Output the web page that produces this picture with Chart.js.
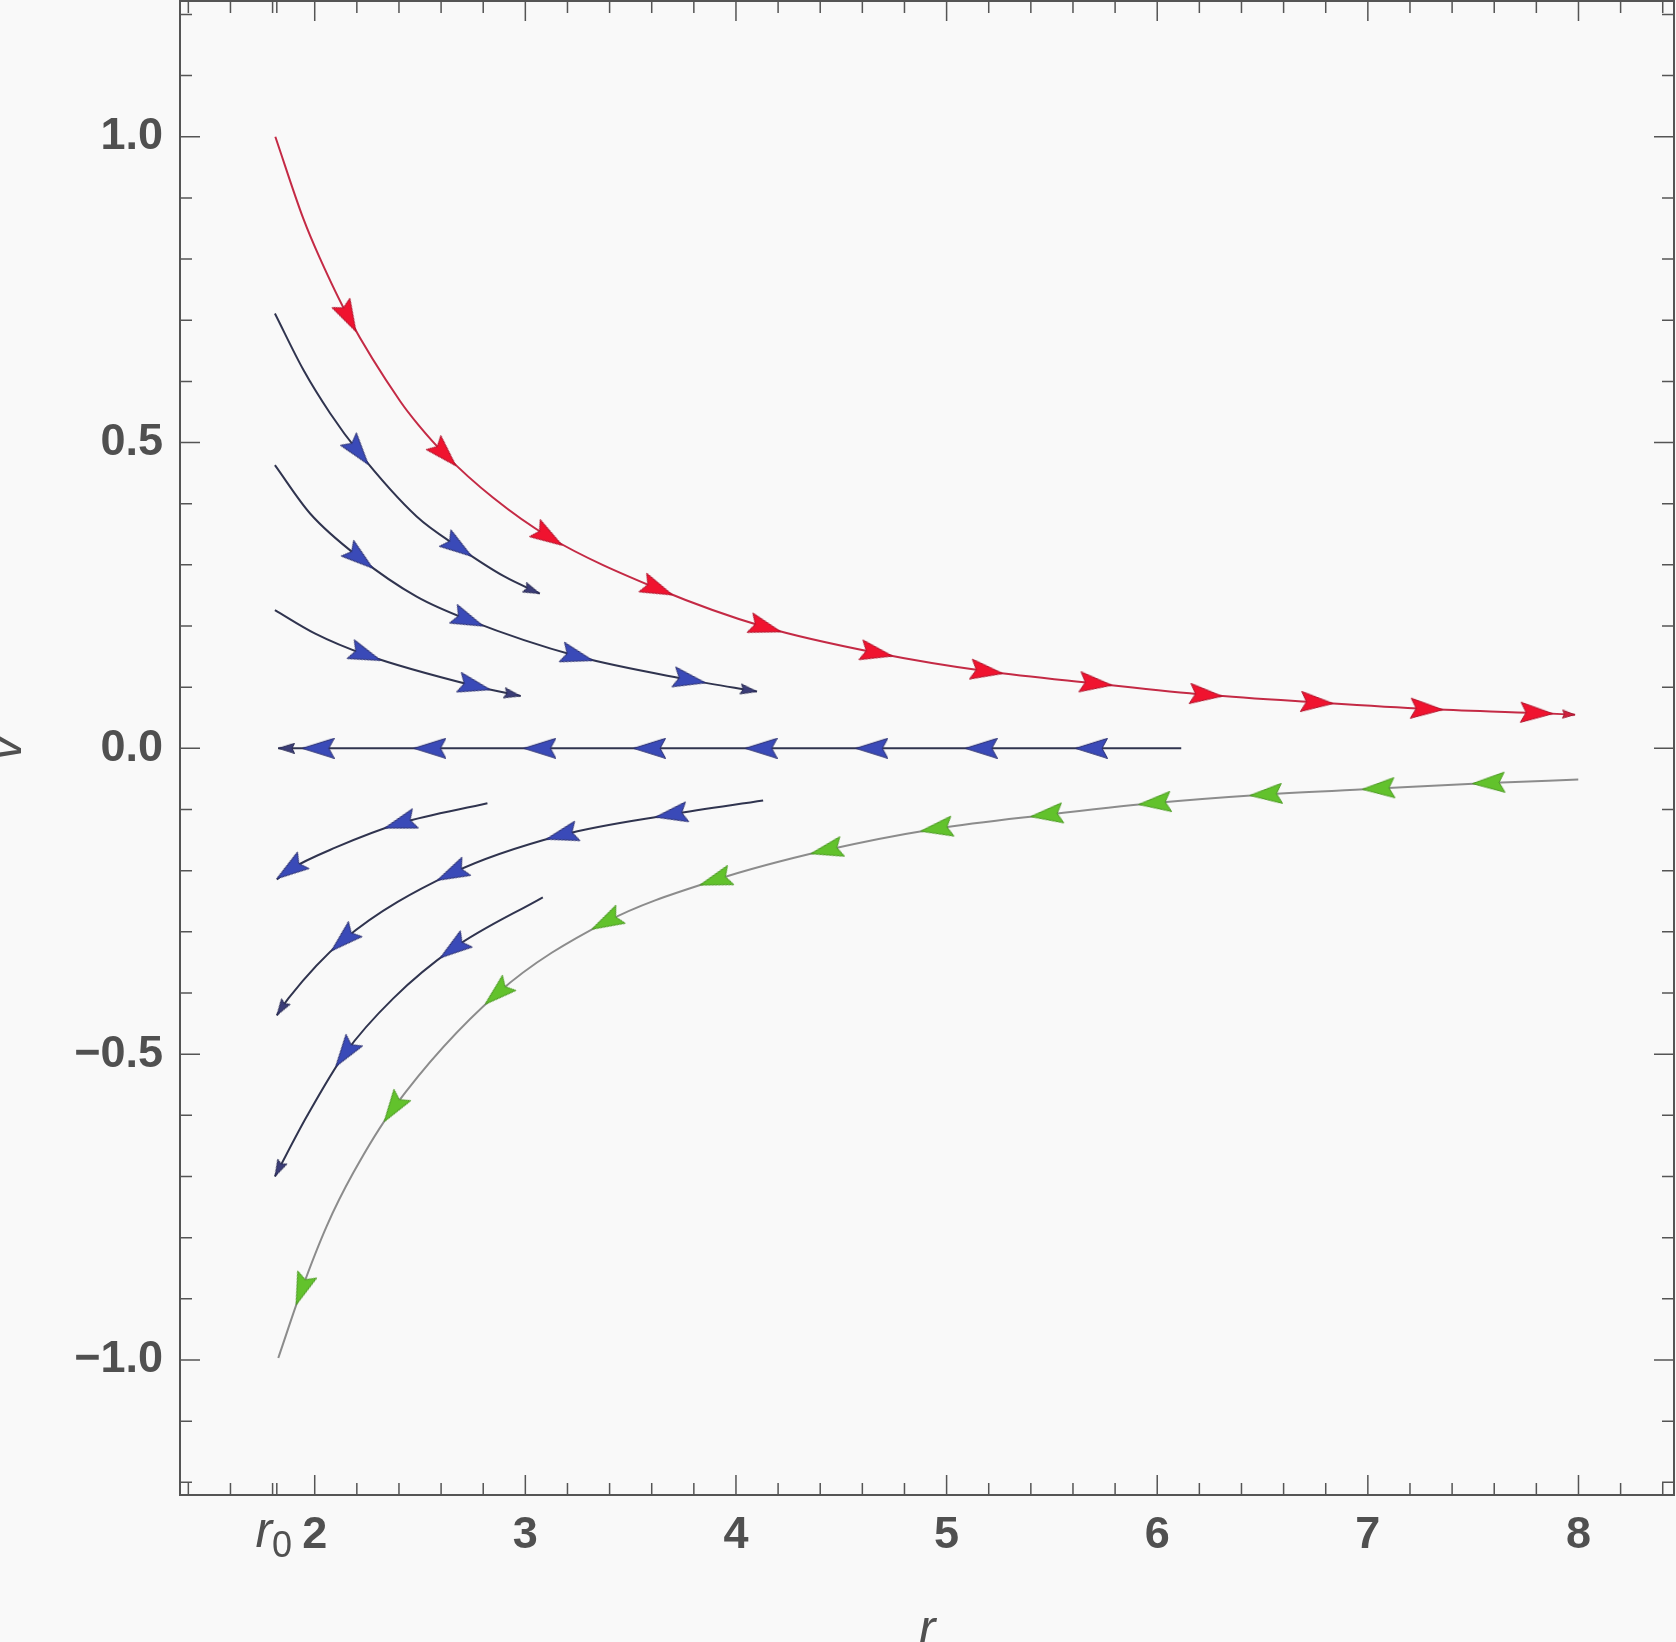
<!DOCTYPE html>
<html>
<head>
<meta charset="utf-8">
<script src="https://cdn.jsdelivr.net/npm/chart.js@4.4.0/dist/chart.umd.min.js"></script>
<style>
  html, body { margin: 0; padding: 0; background: #f9f9f9; }
  #wrap { width: 1676px; height: 1642px; }
</style>
</head>
<body>
<div id="wrap"><canvas id="flow" width="1676" height="1642"></canvas></div>
<script>
const r0 = 1.82;
const xTicks = [2, 3, 4, 5, 6, 7, 8];
const yTicks = [-1, -0.5, 0, 0.5, 1];
const yTickLabels = ['\u22121.0', '\u22120.5', '0.0', '0.5', '1.0'];

// outgoing trajectory from (r0, 1)
const redR = [1.813, 1.946, 2.025, 2.16, 2.405, 2.492, 2.617, 2.846, 3.11, 3.628, 4.14, 4.668, 5.191, 5.709, 6.232, 6.759, 7.28, 7.802, 7.984];
const redV = [1.0, 0.866, 0.801, 0.705, 0.568, 0.529, 0.481, 0.41, 0.346, 0.261, 0.198, 0.156, 0.126, 0.106, 0.0875, 0.075, 0.0644, 0.0578, 0.055];
const redArrows = [2.16, 2.617, 3.11, 3.628, 4.14, 4.668, 5.191, 5.709, 6.232, 6.759, 7.28, 7.802];

// upper blue streamlines
const blue1R = [1.811, 1.946, 2.073, 2.207, 2.484, 2.682, 2.9, 3.069];
const blue1V = [0.711, 0.619, 0.548, 0.485, 0.379, 0.329, 0.281, 0.253];
const blue1Arrows = [2.207, 2.682];

const blue2R = [1.811, 1.978, 2.215, 2.484, 2.729, 3.247, 3.78, 4.1];
const blue2V = [0.463, 0.384, 0.311, 0.248, 0.21, 0.1505, 0.112, 0.0928];
const blue2Arrows = [2.215, 2.729, 3.247, 3.78];

const blue3R = [1.811, 2.0, 2.242, 2.759, 2.978];
const blue3V = [0.226, 0.188, 0.153, 0.102, 0.0855];
const blue3Arrows = [2.242, 2.759];

// v = 0 line
const zeroR = [1.826, 2.017, 2.547, 3.069, 3.59, 4.12, 4.645, 5.165, 5.688, 6.114];
const zeroV = [0, 0, 0, 0, 0, 0, 0, 0, 0, 0];
const zeroArrows = [2.017, 2.547, 3.069, 3.59, 4.12, 4.645, 5.165, 5.688];

// lower blue streamlines
const low1R = [1.82, 1.883, 2.1, 2.405, 2.82];
const low1V = [-0.2145, -0.198, -0.162, -0.1225, -0.0898];
const low1Arrows = [1.883, 2.405];

const low2R = [1.82, 1.875, 2.136, 2.651, 3.173, 3.693, 4.129];
const low2V = [-0.4366, -0.4087, -0.3133, -0.2043, -0.1417, -0.1081, -0.0854];
const low2Arrows = [2.136, 2.651, 3.173, 3.693];

const low3R = [1.811, 1.962, 2.144, 2.373, 2.658, 3.083];
const low3V = [-0.7, -0.602, -0.4986, -0.4087, -0.327, -0.2435];
const low3Arrows = [2.144, 2.658];

// incoming trajectory to (r0, -1)
const greenR = [1.827, 1.938, 2.057, 2.183, 2.373, 2.866, 3.384, 3.902, 4.43, 4.952, 5.475, 5.988, 6.516, 7.05, 7.573, 7.999];
const greenV = [-0.9967, -0.885, -0.781, -0.694, -0.5885, -0.401, -0.2835, -0.2153, -0.1663, -0.1313, -0.1085, -0.0893, -0.0753, -0.0656, -0.0565, -0.051];
const greenArrows = [1.938, 2.373, 2.866, 3.384, 3.902, 4.43, 4.952, 5.475, 5.988, 6.516, 7.05, 7.573];

const ink = '#505050';

function arrowCanvas(len, wid, fill, edge, tipAtCentre) {
  const c = document.createElement('canvas');
  c.width = tipAtCentre ? len * 2 : len;
  c.height = wid;
  const g = c.getContext('2d');
  const mid = wid / 2;
  g.beginPath();
  g.moveTo(len - 0.5, mid);
  g.lineTo(0.5, 0.5);
  g.lineTo(len * 0.18, mid);
  g.lineTo(0.5, wid - 0.5);
  g.closePath();
  g.fillStyle = fill;
  g.fill();
  g.strokeStyle = edge;
  g.lineWidth = 1;
  g.stroke();
  return c;
}

const heads = {
  red: arrowCanvas(33, 21, '#f0132f', '#b0102a', false),
  blue: arrowCanvas(33, 21, '#3a4ab8', '#2a2f70', false),
  green: arrowCanvas(33, 21, '#62c22c', '#4a9a20', false),
  redEnd: arrowCanvas(13, 9, '#d0203c', '#a01830', true),
  blueEnd: arrowCanvas(17, 11, '#3b3d78', '#2a2c55', true)
};

function pts(rs, vs) {
  return rs.map((r, i) => ({ x: r, y: vs[i] }));
}

// angle of the drawn curve at an arrow, from the curve's own pixels
function tangentAngle(ctx) {
  const ds = ctx.dataset;
  const chart = ctx.chart;
  const p = ds.data[ctx.dataIndex];
  if (!p) return 0;
  const sx = chart.scales.x, sy = chart.scales.y;
  const curve = chart.data.datasets[ds.curve].data;
  const X = curve.map(q => sx.getPixelForValue(q.x));
  const Y = curve.map(q => sy.getPixelForValue(q.y));
  const px = sx.getPixelForValue(p.x);
  const n = X.length;
  let slope;
  if (n < 3) {
    slope = (Y[1] - Y[0]) / (X[1] - X[0]);
  } else {
    let k = 0, best = Infinity;
    X.forEach((xx, i) => {
      const d = Math.abs(xx - px);
      if (d < best) { best = d; k = i; }
    });
    k = Math.min(Math.max(k, 1), n - 2);
    const x0 = X[k - 1], x1 = X[k], x2 = X[k + 1];
    const y0 = Y[k - 1], y1 = Y[k], y2 = Y[k + 1];
    slope = y0 * ((px - x1) + (px - x2)) / ((x0 - x1) * (x0 - x2))
          + y1 * ((px - x0) + (px - x2)) / ((x1 - x0) * (x1 - x2))
          + y2 * ((px - x0) + (px - x1)) / ((x2 - x0) * (x2 - x1));
  }
  let a = Math.atan2(slope, 1) * 180 / Math.PI;
  if (ds.dir < 0) a += 180;
  return a;
}

const curves = [
  { r: redR, v: redV, line: '#c42a45', arrows: redArrows, head: 'red', ends: [7.984], endHead: 'redEnd', dir: 1 },
  { r: blue1R, v: blue1V, line: '#30344f', arrows: blue1Arrows, head: 'blue', ends: [3.069], endHead: 'blueEnd', dir: 1 },
  { r: blue2R, v: blue2V, line: '#30344f', arrows: blue2Arrows, head: 'blue', ends: [4.1], endHead: 'blueEnd', dir: 1 },
  { r: blue3R, v: blue3V, line: '#30344f', arrows: blue3Arrows, head: 'blue', ends: [2.978], endHead: 'blueEnd', dir: 1 },
  { r: zeroR, v: zeroV, line: '#30344f', arrows: zeroArrows, head: 'blue', ends: [1.826], endHead: 'blueEnd', dir: -1 },
  { r: low1R, v: low1V, line: '#30344f', arrows: low1Arrows, head: 'blue', ends: [], endHead: 'blueEnd', dir: -1 },
  { r: low2R, v: low2V, line: '#30344f', arrows: low2Arrows, head: 'blue', ends: [1.82], endHead: 'blueEnd', dir: -1 },
  { r: low3R, v: low3V, line: '#30344f', arrows: low3Arrows, head: 'blue', ends: [1.811], endHead: 'blueEnd', dir: -1 },
  { r: greenR, v: greenV, line: '#8c8c8c', arrows: greenArrows, head: 'green', ends: [], endHead: 'blueEnd', dir: -1 }
];

const datasets = [];
curves.forEach(c => {
  datasets.push({
    data: pts(c.r, c.v),
    showLine: true,
    borderColor: c.line,
    borderWidth: 2,
    pointRadius: 0,
    cubicInterpolationMode: 'monotone',
    fill: false,
    order: 2
  });
});
curves.forEach((c, i) => {
  const pick = list => list.map(r => ({ x: r, y: c.v[c.r.indexOf(r)] }));
  datasets.push({
    data: pick(c.arrows),
    curve: i,
    dir: c.dir,
    showLine: false,
    pointStyle: heads[c.head],
    pointRadius: 15,
    pointRotation: tangentAngle,
    order: 1
  });
  if (c.ends.length) {
    datasets.push({
      data: pick(c.ends),
      curve: i,
      dir: c.dir,
      showLine: false,
      pointStyle: heads[c.endHead],
      pointRadius: 15,
      pointRotation: tangentAngle,
      order: 1
    });
  }
});

// no extra room for edge labels: the frame fills the canvas like the original
function noPad(s) {
  s.paddingTop = 0;
  s.paddingBottom = 0;
  s.paddingLeft = 0;
  s.paddingRight = 0;
}

const framePlugin = {
  id: 'frame',
  afterDatasetsDraw(chart) {
    const { ctx, chartArea: a, scales: { x, y } } = chart;
    ctx.save();
    ctx.strokeStyle = '#555';
    ctx.lineWidth = 2;
    ctx.strokeRect(a.left, a.top, a.right - a.left, a.bottom - a.top);

    const xMinor = [r0];
    for (let i = 7; i <= 42; i++) if (i % 5) xMinor.push(i / 5);
    const yMinor = [];
    for (let i = -12; i <= 12; i++) if (i % 5) yMinor.push(i / 10);

    ctx.lineWidth = 1.5;
    ctx.beginPath();
    const tickX = (v, len) => {
      const px = x.getPixelForValue(v);
      ctx.moveTo(px, a.bottom); ctx.lineTo(px, a.bottom - len);
      ctx.moveTo(px, a.top); ctx.lineTo(px, a.top + len);
    };
    const tickY = (v, len) => {
      const py = y.getPixelForValue(v);
      ctx.moveTo(a.left, py); ctx.lineTo(a.left + len, py);
      ctx.moveTo(a.right, py); ctx.lineTo(a.right - len, py);
    };
    xMinor.forEach(v => tickX(v, 12));
    xTicks.forEach(v => tickX(v, 20));
    yMinor.forEach(v => tickY(v, 12));
    yTicks.forEach(v => tickY(v, 20));
    ctx.stroke();

    // r0 tick label
    ctx.fillStyle = ink;
    ctx.textBaseline = 'alphabetic';
    ctx.textAlign = 'left';
    const fr = 'italic 50px "Liberation Sans"';
    const f0 = '36px "Liberation Sans"';
    ctx.font = fr;
    const wr = ctx.measureText('r').width;
    ctx.font = f0;
    const w0 = ctx.measureText('0').width;
    const left = x.getPixelForValue(r0) - (wr + w0) / 2 - 3;
    ctx.font = fr;
    ctx.fillText('r', left, 1547);
    ctx.font = f0;
    ctx.fillText('0', left + wr, 1557);
    ctx.restore();
  }
};

new Chart(document.getElementById('flow'), {
  type: 'scatter',
  data: { datasets },
  options: {
    responsive: false,
    devicePixelRatio: 1,
    animation: false,
    events: [],
    layout: { autoPadding: false, padding: { left: 0, right: 2, top: 1, bottom: 0 } },
    plugins: { legend: { display: false }, tooltip: { enabled: false } },
    scales: {
      x: {
        type: 'linear',
        position: 'bottom',
        min: 1.3604,
        max: 8.4535,
        afterBuildTicks: s => { s.ticks = xTicks.map(v => ({ value: v })); },
        afterFit: s => { s.height = 147; noPad(s); },
        grid: { display: false, drawTicks: false },
        border: { display: false },
        ticks: {
          color: ink,
          font: { family: 'Liberation Sans', size: 45, weight: 'bold' },
          padding: 14,
          maxRotation: 0,
          autoSkip: false,
          callback: v => String(v)
        },
        title: {
          display: true,
          text: 'r',
          color: ink,
          font: { family: 'Liberation Sans', size: 50, style: 'italic' },
          padding: { top: 0, bottom: -19 }
        }
      },
      y: {
        type: 'linear',
        position: 'left',
        min: -1.2207,
        max: 1.2219,
        afterBuildTicks: s => { s.ticks = yTicks.map(v => ({ value: v })); },
        afterFit: s => { s.width = 180; noPad(s); },
        grid: { display: false, drawTicks: false },
        border: { display: false },
        ticks: {
          color: ink,
          font: { family: 'Liberation Sans', size: 45, weight: 'bold' },
          padding: 17,
          autoSkip: false,
          callback: v => yTickLabels[yTicks.indexOf(v)]
        },
        title: {
          display: true,
          text: 'v',
          color: ink,
          font: { family: 'Liberation Sans', size: 50, style: 'italic' },
          padding: { top: -23.3, bottom: 0 }
        }
      }
    }
  },
  plugins: [framePlugin]
});
</script>
</body>
</html>
